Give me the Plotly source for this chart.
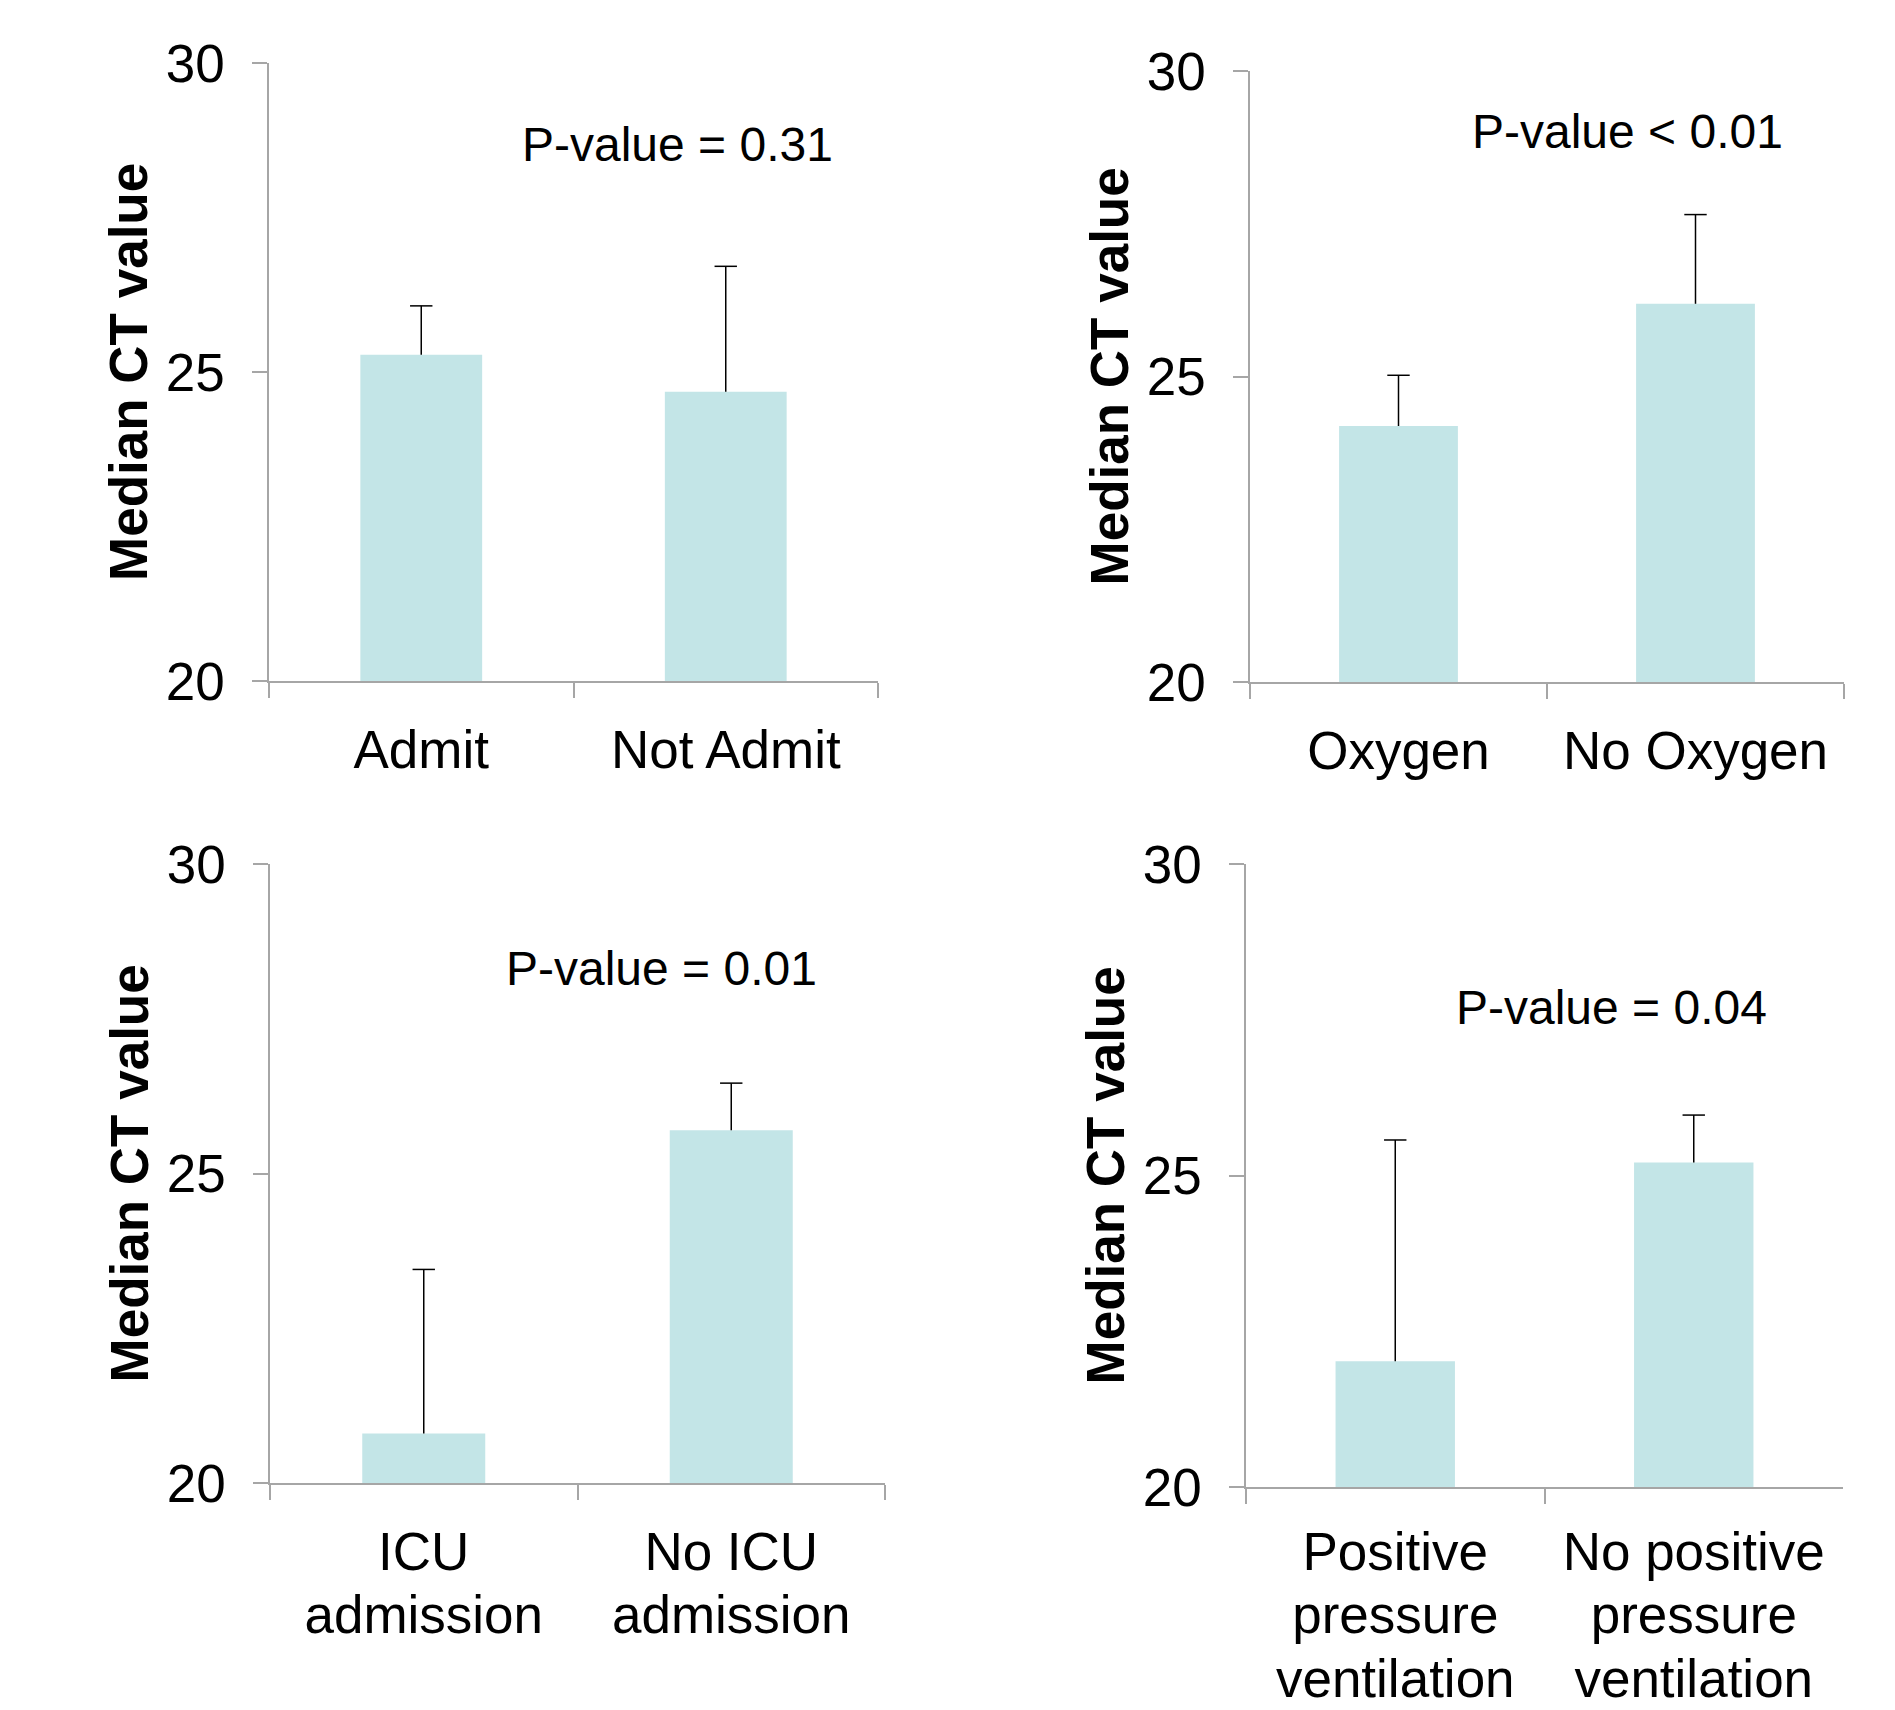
import plotly.graph_objects as go

# ---------------- data ----------------
cats_admit = ["Admit", "Not Admit"]
vals_admit = [25.28, 24.68]
err_admit = [0.79, 2.03]
p_admit = "P-value = 0.31"

cats_oxygen = ["Oxygen", "No Oxygen"]
vals_oxygen = [24.19, 26.19]
err_oxygen = [0.83, 1.46]
p_oxygen = "P-value < 0.01"

cats_icu = ["ICU<br>admission", "No ICU<br>admission"]
vals_icu = [20.80, 25.70]
err_icu = [2.65, 0.76]
p_icu = "P-value = 0.01"

cats_ppv = ["Positive<br>pressure<br>ventilation", "No positive<br>pressure<br>ventilation"]
vals_ppv = [22.02, 25.21]
err_ppv = [3.55, 0.76]
p_ppv = "P-value = 0.04"

y_ticks = [20, 25, 30]
y_title = "Median CT value"

# ---------------- layout geometry (pixels in the page) ----------------
W, H = 1895, 1710
OFF = 8  # default page body margin
FONT = "Liberation Sans, Arial, sans-serif"
BAR = "#C3E5E7"
AX = "#A6A6A6"
LABEL_SIZE = 53

# (x0, x1, ytop(30), ybottom(20)) in page pixels
boxes = [
    (269, 878, 63, 681),
    (1250, 1844, 71, 682),
    (270, 885, 864, 1483),
    (1246, 1843, 864, 1487),
]
# p-value annotation centers in page pixels
p_pos = [(677, 145), (1627, 131), (661, 968), (1611, 1007)]
# base font size of category labels (sets the line spacing of wrapped labels)
xlab_base = [53, 53, 49, 49]
xlab_standoff = [22, 22, 26, 22]


def fx(px):
    return (px - OFF) / W


def fy(py):
    return 1 - (py - OFF) / H


def label_text(cat):
    parts = cat.split("<br>")
    if len(parts) == 1:
        return cat
    return "<br>".join(f"<span style='font-size:{LABEL_SIZE}px'>{p}</span>" for p in parts)


panels = [
    (cats_admit, vals_admit, err_admit, p_admit),
    (cats_oxygen, vals_oxygen, err_oxygen, p_oxygen),
    (cats_icu, vals_icu, err_icu, p_icu),
    (cats_ppv, vals_ppv, err_ppv, p_ppv),
]

fig = go.Figure()
annotations = []
layout_axes = {}

for i, ((cats, vals, errs, ptxt), (x0, x1, yt, yb), (px, py)) in enumerate(zip(panels, boxes, p_pos)):
    n = i + 1
    xa = "x" if n == 1 else f"x{n}"
    ya = "y" if n == 1 else f"y{n}"
    fig.add_trace(go.Bar(x=cats, y=vals, marker=dict(color=BAR, line=dict(width=0)),
                         xaxis=xa, yaxis=ya, showlegend=False, hoverinfo="x+y"))
    # error bar stems (upper only)
    ex, ey = [], []
    for c, v, e in zip(cats, vals, errs):
        ex += [c, c, None]
        ey += [v, v + e, None]
    fig.add_trace(go.Scatter(x=ex, y=ey, mode="lines", line=dict(color="black", width=1.5),
                             xaxis=xa, yaxis=ya, showlegend=False, hoverinfo="skip"))
    fig.add_trace(go.Scatter(x=cats, y=[v + e for v, e in zip(vals, errs)], mode="markers",
                             marker=dict(symbol="line-ew", size=16,
                                         line=dict(width=1.5, color="black")),
                             xaxis=xa, yaxis=ya, showlegend=False, hoverinfo="skip"))

    xkey = "xaxis" if n == 1 else f"xaxis{n}"
    ykey = "yaxis" if n == 1 else f"yaxis{n}"
    layout_axes[xkey] = dict(
        domain=[fx(x0), fx(x1)], anchor=ya, type="category",
        categoryorder="array", categoryarray=cats,
        tickmode="array", tickvals=cats, ticktext=[label_text(c) for c in cats],
        range=[-0.5, 1.5], tickson="boundaries", ticks="outside", ticklen=15,
        tickwidth=1.5, tickcolor=AX, showline=True, linecolor=AX, linewidth=1.5,
        showgrid=False, zeroline=False, ticklabelstandoff=xlab_standoff[i], automargin=False,
        tickfont=dict(family=FONT, size=xlab_base[i], color="black"), fixedrange=True,
    )
    layout_axes[ykey] = dict(
        domain=[fy(yb), fy(yt)], anchor=xa, range=[20, 30],
        tickvals=y_ticks, ticks="outside", ticklen=15, tickwidth=1.5, tickcolor=AX,
        showline=True, linecolor=AX, linewidth=1.5, showgrid=False, zeroline=False,
        ticklabelstandoff=17, automargin=False,
        tickfont=dict(family=FONT, size=53, color="black"), fixedrange=True,
    )
    annotations.append(dict(
        text=ptxt, xref="paper", yref="paper", x=fx(px), y=fy(py),
        xanchor="center", yanchor="middle", showarrow=False,
        font=dict(family=FONT, size=48, color="black"),
    ))
    annotations.append(dict(
        text=f"<b>{y_title}</b>", xref="paper", yref="paper", x=fx(x0 - 141),
        y=fy((yt + yb) / 2), xanchor="center", yanchor="middle", textangle=-90,
        showarrow=False, font=dict(family=FONT, size=53, color="black"),
    ))

fig.update_layout(
    width=W, height=H, margin=dict(l=0, r=0, t=0, b=0, pad=0, autoexpand=False),
    paper_bgcolor="white", plot_bgcolor="white",
    barmode="overlay", bargap=0.6, showlegend=False,
    annotations=annotations, **layout_axes,
)

fig.write_html("out.html")
